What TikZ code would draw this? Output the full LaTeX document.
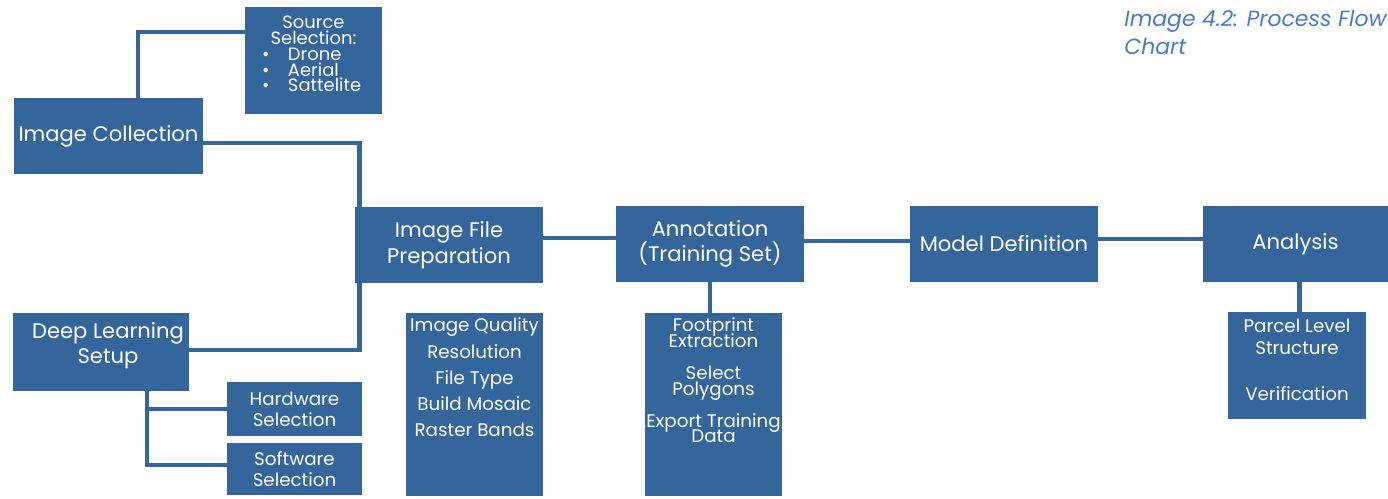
\documentclass[tikz,border=0pt]{standalone}
\usepackage{fontspec}
\setmainfont{Poppins}
\usetikzlibrary{positioning,backgrounds}
\newlength\px \setlength\px{0.02cm}
\definecolor{boxblue}{HTML}{35669B}
\definecolor{capblue}{HTML}{4A7DC0}

\begin{document}
\begin{tikzpicture}[x=0.02cm,y=-0.02cm,
	blk/.style={rectangle,fill=boxblue,text=white,inner sep=0pt,align=center,font=\fontsize{12}{14.5}\selectfont},
	sub/.style={blk,font=\fontsize{10.4}{12}\selectfont},
	link/.style={draw=boxblue,line width=2.6pt}]
	\useasboundingbox (0,0) rectangle (1388,499);

	%left nodes
	\node [blk,minimum width=189\px,minimum height=76\px] (coll) at (108.5,136) {\raisebox{5\px}{Image Collection}};
	\node [blk,minimum width=176\px,minimum height=78\px] (deep) at (101,352) {\parbox[c][78\px][t]{176\px}{\vspace*{9\px}\centering\leftskip=14\px plus 1fil Deep Learning\\Setup}};
	\node [blk,font=\fontsize{10.2}{9}\selectfont] (src) at (313.5,60.5) {\parbox[c][107\px][t]{137\px}{\lineskiplimit=-20pt\vspace*{9\px}\centering Source\\Selection:\par\raggedright
		\hspace*{17\px}\makebox[26\px][l]{\textbullet}Drone\\
		\hspace*{17\px}\makebox[26\px][l]{\textbullet}Aerial\\
		\hspace*{17\px}\makebox[26\px][l]{\textbullet}Sattelite}};
	\node [sub,minimum width=135\px,minimum height=54\px] (hard) at (294.5,409) {Hardware\\Selection};
	\node [sub,minimum width=135\px,minimum height=52\px] (soft) at (294.5,469) {Software\\Selection};

	%main row
	\node [blk,minimum width=188\px,minimum height=76\px] (prep) at (449,245) {Image File\\Preparation};
	\node [blk,minimum width=188\px,minimum height=76\px] (anno) at (710,244) {Annotation\\(Training Set)};
	\node [blk,minimum width=188\px,minimum height=76\px] (model) at (1004,244) {Model Definition};
	\node [blk,minimum width=185\px,minimum height=76\px] (anal) at (1295.5,244) {Analysis};

	%detail boxes
	\node [sub,font=\fontsize{10.4}{14.9}\selectfont] (qual) at (474.5,404.5) {\parbox[c][183\px][t]{137\px}{\vspace*{5\px}\centering Image Quality\\Resolution\\File Type\\Build Mosaic\\Raster Bands}};
	\node [sub,font=\fontsize{10.4}{9}\selectfont] (foot) at (713.5,404.5) {\parbox[c][183\px][t]{137\px}{\lineskiplimit=-20pt\vspace*{5\px}\centering Footprint\\Extraction\\[16\px]Select\\Polygons\\[16\px]Export Training\\Data}};
	\node [sub,font=\fontsize{10.4}{12.5}\selectfont] (parc) at (1297,365.5) {\parbox[c][107\px][t]{138\px}{\vspace*{7\px}\centering Parcel Level\\Structure\\[24\px]Verification}};

	%caption
	\node [anchor=north west,inner sep=0pt,align=left,text=capblue,font=\fontsize{12.5}{16}\selectfont\itshape] (cap) at (1124,10) {Image 4.2: Process Flow\\Chart};

	%edges
	\begin{pgfonlayer}{background}
		\draw[link] ([xshift=29.5\px]coll.north) |- ([yshift=28.5\px]src.west);
		\draw[link] ([yshift=-7\px]coll.east) -| ([xshift=5\px]prep.west) |- ([yshift=2\px]deep.east);
		\draw[link] ([xshift=46\px]deep.south) |- (hard.west);
		\draw[link] ([xshift=46\px]deep.south) |- ([yshift=4\px]soft.west);
		\draw[link] ([yshift=7\px]prep.east) -- ([yshift=7\px]prep.east -| anno.west);
		\draw[link] ([yshift=3\px]anno.east) -- ([yshift=3\px]model.west);
		\draw[link] ([yshift=5\px]model.east) -- ([yshift=5\px]anal.west);
		\draw[link] (anno.south) -- (anno.south |- foot.north);
		\draw[link] ([xshift=4\px]anal.south) -- ([xshift=4\px]anal.south |- parc.north);
	\end{pgfonlayer}
\end{tikzpicture}
\end{document}
